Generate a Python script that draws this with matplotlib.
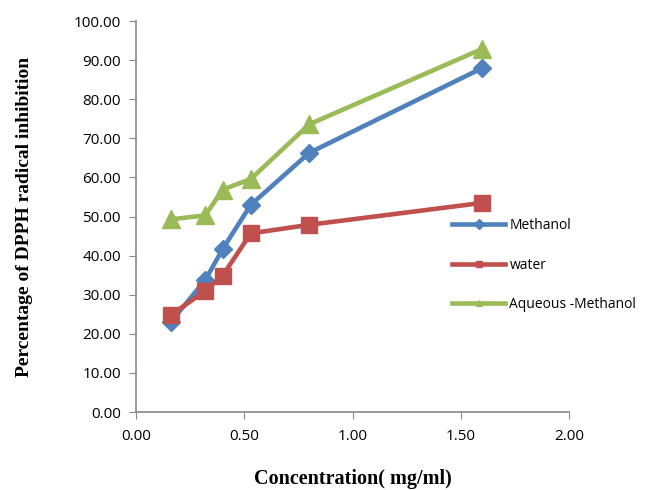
import matplotlib.pyplot as plt
from matplotlib.lines import Line2D

conc = [0.16, 0.32, 0.40, 0.53, 0.80, 1.60]
methanol = [23.0, 33.8, 41.7, 53.0, 66.3, 88.0]
water = [24.8, 31.0, 34.9, 45.7, 47.9, 53.5]
aq_methanol = [49.3, 50.3, 56.9, 59.6, 73.6, 92.9]

names = ["Methanol", "water", "Aqueous -Methanol"]
colors = ["#4F81BD", "#C0504D", "#9BBB59"]
markers = ["D", "s", "^"]
msizes = [9, 12, 13]
series = [methanol, water, aq_methanol]

plt.rcParams['font.family'] = ['Open Sans', 'DejaVu Sans']

fig = plt.figure(figsize=(6.48, 4.9), dpi=100)
ax = fig.add_axes([0.21, 0.159, 0.668, 0.798])

for y, c, m, ms in zip(series, colors, markers, msizes):
    ax.plot(conc, y, color=c, lw=3.3, marker=m, markersize=ms,
            markeredgecolor=c, zorder=3)

ax.set_xlim(0, 2.0)
ax.set_ylim(0, 100)
ax.set_xticks([0, 0.5, 1.0, 1.5, 2.0])
ax.set_yticks(range(0, 101, 10))
ax.xaxis.set_major_formatter(plt.FormatStrFormatter('%.2f'))
ax.yaxis.set_major_formatter(plt.FormatStrFormatter('%.2f'))
ax.tick_params(labelsize=11, length=5, color='#888888', direction='out')
ax.tick_params(axis='x', pad=7)
ax.tick_params(axis='y', pad=6)
ax.spines['top'].set_visible(False)
ax.spines['right'].set_visible(False)
for s in ['left', 'bottom']:
    ax.spines[s].set_color('#888888')
    ax.spines[s].set_linewidth(1.2)

ax.set_xlabel("Concentration( mg/ml)", family='Liberation Serif',
              fontweight='bold', fontsize=14.5, labelpad=18)
ax.set_ylabel("Percentage of DPPH radical inhibition", family='Liberation Serif',
              fontweight='bold', fontsize=14)
ax.yaxis.set_label_coords(-0.237, 0.5)

handles = [Line2D([], [], color=c, lw=3.3, marker=m, markersize=5)
           for c, m in zip(colors, markers)]
ax.legend(handles, names, loc='upper left', bbox_to_anchor=(0.718, 0.51),
          frameon=False, fontsize=10, handlelength=3.8, labelspacing=1.75,
          handletextpad=0.3, borderaxespad=0)

fig.savefig("out.png", dpi=100)
